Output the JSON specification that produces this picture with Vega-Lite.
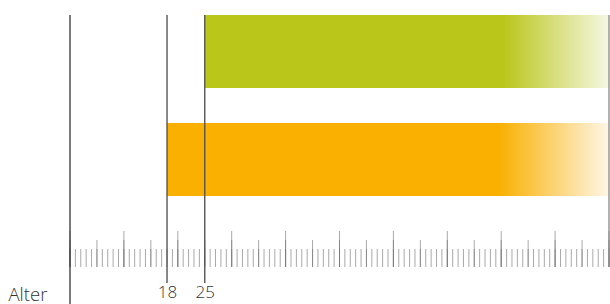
{
  "$schema": "https://vega.github.io/schema/vega-lite/v6.json",
  "width": 539,
  "height": 283,
  "autosize": "none",
  "padding": {"left": 70, "top": 0, "right": 1, "bottom": 21},
  "background": "white",
  "config": {"view": {"stroke": null}},
  "datasets": {
    "gruppen": [
      {"Gruppe": "ab 25", "alter": 25},
      {"Gruppe": "ab 18", "alter": 18}
    ],
    "linien": [
      {"alter": 0},
      {"alter": 18},
      {"alter": 25},
      {"alter": 100}
    ],
    "skala": [
      {"alter": 0}, {"alter": 1}, {"alter": 2}, {"alter": 3}, {"alter": 4}, {"alter": 5}, {"alter": 6}, {"alter": 7}, {"alter": 8}, {"alter": 9},
      {"alter": 10}, {"alter": 11}, {"alter": 12}, {"alter": 13}, {"alter": 14}, {"alter": 15}, {"alter": 16}, {"alter": 17}, {"alter": 18}, {"alter": 19},
      {"alter": 20}, {"alter": 21}, {"alter": 22}, {"alter": 23}, {"alter": 24}, {"alter": 25}, {"alter": 26}, {"alter": 27}, {"alter": 28}, {"alter": 29},
      {"alter": 30}, {"alter": 31}, {"alter": 32}, {"alter": 33}, {"alter": 34}, {"alter": 35}, {"alter": 36}, {"alter": 37}, {"alter": 38}, {"alter": 39},
      {"alter": 40}, {"alter": 41}, {"alter": 42}, {"alter": 43}, {"alter": 44}, {"alter": 45}, {"alter": 46}, {"alter": 47}, {"alter": 48}, {"alter": 49},
      {"alter": 50}, {"alter": 51}, {"alter": 52}, {"alter": 53}, {"alter": 54}, {"alter": 55}, {"alter": 56}, {"alter": 57}, {"alter": 58}, {"alter": 59},
      {"alter": 60}, {"alter": 61}, {"alter": 62}, {"alter": 63}, {"alter": 64}, {"alter": 65}, {"alter": 66}, {"alter": 67}, {"alter": 68}, {"alter": 69},
      {"alter": 70}, {"alter": 71}, {"alter": 72}, {"alter": 73}, {"alter": 74}, {"alter": 75}, {"alter": 76}, {"alter": 77}, {"alter": 78}, {"alter": 79},
      {"alter": 80}, {"alter": 81}, {"alter": 82}, {"alter": 83}, {"alter": 84}, {"alter": 85}, {"alter": 86}, {"alter": 87}, {"alter": 88}, {"alter": 89},
      {"alter": 90}, {"alter": 91}, {"alter": 92}, {"alter": 93}, {"alter": 94}, {"alter": 95}, {"alter": 96}, {"alter": 97}, {"alter": 98}, {"alter": 99},
      {"alter": 100}
    ]
  },
  "encoding": {
    "x": {
      "field": "alter",
      "type": "quantitative",
      "scale": {"domain": [0, 100], "nice": false, "zero": false},
      "axis": {
        "values": [18, 25],
        "domain": false,
        "ticks": false,
        "grid": false,
        "labelFont": "Open Sans",
        "labelFontWeight": 300,
        "labelFontSize": 17,
        "labelColor": "#333333",
        "labelPadding": 1,
        "labelFlush": false,
        "title": "Alter",
        "titleFont": "Open Sans",
        "titleFontWeight": 300,
        "titleFontSize": 18.5,
        "titleColor": "#333333",
        "titleAnchor": "start",
        "titleAlign": "left",
        "titleBaseline": "alphabetic",
        "titleX": -62,
        "titleY": 17
      }
    }
  },
  "layer": [
    {
      "data": {"name": "gruppen"},
      "transform": [{"filter": "datum.Gruppe == 'ab 25'"}],
      "mark": {
        "type": "bar",
        "color": {
          "gradient": "linear", "x1": 0, "x2": 1, "y1": 0, "y2": 0,
          "stops": [
            {"offset": 0, "color": "#bbc61b"},
            {"offset": 0.74, "color": "#bbc61b"},
            {"offset": 1, "color": "#f5f8e3"}
          ]
        }
      },
      "encoding": {
        "x2": {"datum": 100},
        "y": {"datum": 252, "type": "quantitative", "scale": {"domain": [-16, 267], "nice": false, "zero": false}, "axis": null},
        "y2": {"datum": 179}
      }
    },
    {
      "data": {"name": "gruppen"},
      "transform": [{"filter": "datum.Gruppe == 'ab 18'"}],
      "mark": {
        "type": "bar",
        "color": {
          "gradient": "linear", "x1": 0, "x2": 1, "y1": 0, "y2": 0,
          "stops": [
            {"offset": 0, "color": "#f9b000"},
            {"offset": 0.75, "color": "#f9b000"},
            {"offset": 1, "color": "#fef6e6"}
          ]
        }
      },
      "encoding": {
        "x2": {"datum": 100},
        "y": {"datum": 144, "type": "quantitative", "axis": null},
        "y2": {"datum": 71}
      }
    },
    {
      "data": {"name": "skala"},
      "mark": {"type": "rule", "color": "#707070", "opacity": 0.6, "strokeWidth": 1},
      "encoding": {
        "y": {"datum": 0, "type": "quantitative", "axis": null},
        "y2": {"datum": 18}
      }
    },
    {
      "data": {"name": "skala"},
      "transform": [{"filter": "datum.alter % 5 == 0"}],
      "mark": {"type": "rule", "color": "#707070", "opacity": 0.6, "strokeWidth": 1},
      "encoding": {
        "y": {"datum": 0, "type": "quantitative", "axis": null},
        "y2": {"datum": 27}
      }
    },
    {
      "data": {"name": "skala"},
      "transform": [{"filter": "datum.alter % 10 == 0"}],
      "mark": {"type": "rule", "color": "#707070", "opacity": 0.6, "strokeWidth": 1},
      "encoding": {
        "y": {"datum": 0, "type": "quantitative", "axis": null},
        "y2": {"datum": 36}
      }
    },
    {
      "data": {"name": "linien"},
      "transform": [{"filter": "datum.alter == 0"}],
      "mark": {"type": "rule", "color": "#333333", "strokeWidth": 1.3},
      "encoding": {
        "y": {"datum": 252, "type": "quantitative", "axis": null},
        "y2": {"datum": -37}
      }
    },
    {
      "data": {"name": "linien"},
      "transform": [{"filter": "datum.alter == 18 || datum.alter == 25"}],
      "mark": {"type": "rule", "color": "#555555", "strokeWidth": 1.4},
      "encoding": {
        "y": {"datum": 252, "type": "quantitative", "axis": null},
        "y2": {"datum": -16}
      }
    },
    {
      "data": {"name": "linien"},
      "transform": [{"filter": "datum.alter == 100"}],
      "mark": {"type": "rule", "color": "#888888", "strokeWidth": 1.3},
      "encoding": {
        "y": {"datum": 252, "type": "quantitative", "axis": null},
        "y2": {"datum": 0}
      }
    }
  ]
}
